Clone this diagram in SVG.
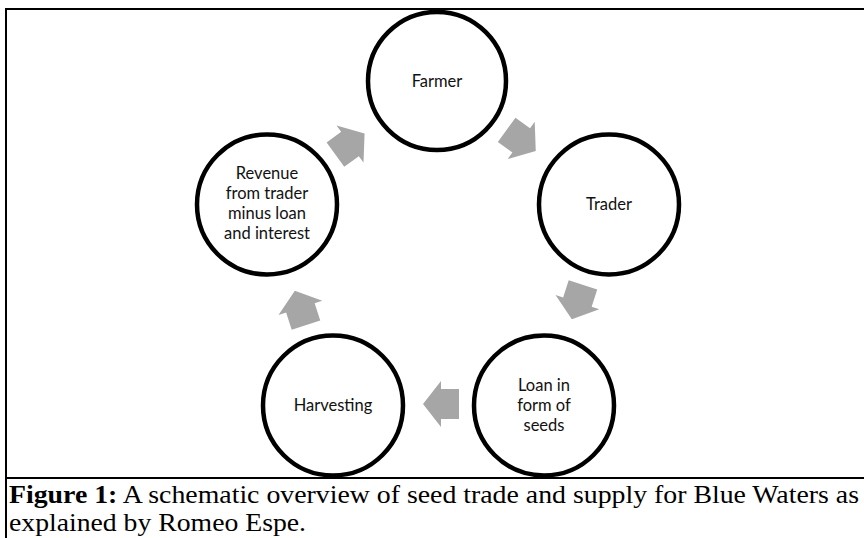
<svg xmlns="http://www.w3.org/2000/svg" width="864" height="538" viewBox="0 0 864 538">
<defs>
<style>
.node{fill:#fff;stroke:#000;stroke-width:4.5}
.lbl{font-family:Lato,"Open Sans","Liberation Sans",sans-serif;font-size:16.5px;fill:#111;text-anchor:middle}
.arr{fill:#a6a6a6}
.frame{fill:none;stroke:#000;stroke-width:2}
.cap{font-family:"Liberation Serif","Times New Roman",serif;font-size:25px;fill:#000}
</style>
<path id="arrow" d="M-18,-15 H0 V-23 L18,0 L0,23 V15 H-18 Z"/>
</defs>
<rect width="864" height="538" fill="#fff"/>
<g id="frame">
<path class="frame" d="M6,540 V9 H866"/>
<line class="frame" x1="6" y1="478" x2="866" y2="478"/>
</g>
<g id="connectors">
<use href="#arrow" class="arr" transform="translate(521.2,140.4) rotate(36)"/>
<use href="#arrow" class="arr" transform="translate(577.4,302.1) rotate(108)"/>
<use href="#arrow" class="arr" transform="translate(441,404) rotate(180)"/>
<use href="#arrow" class="arr" transform="translate(300.4,307.9) rotate(252)"/>
<use href="#arrow" class="arr" transform="translate(350,144) rotate(324)"/>
</g>
<g id="farmer">
<circle class="node" cx="437" cy="81" r="69"/>
<text class="lbl" x="437" y="87">Farmer</text>
</g>
<g id="trader">
<circle class="node" cx="609" cy="204.5" r="70"/>
<text class="lbl" x="609" y="210">Trader</text>
</g>
<g id="loan">
<circle class="node" cx="544" cy="405.5" r="70"/>
<text class="lbl" x="544" y="391">Loan in</text>
<text class="lbl" x="544" y="411">form of</text>
<text class="lbl" x="544" y="431">seeds</text>
</g>
<g id="harvesting">
<circle class="node" cx="333" cy="405.5" r="70"/>
<text class="lbl" x="333" y="411">Harvesting</text>
</g>
<g id="revenue">
<circle class="node" cx="267" cy="204.5" r="70"/>
<text class="lbl" x="267" y="179">Revenue</text>
<text class="lbl" x="267" y="199">from trader</text>
<text class="lbl" x="267" y="219">minus loan</text>
<text class="lbl" x="267" y="239">and interest</text>
</g>
<g id="caption">
<text class="cap" x="9" y="503" textLength="850" lengthAdjust="spacingAndGlyphs"><tspan font-weight="bold">Figure 1:</tspan> A schematic overview of seed trade and supply for Blue Waters as</text>
<text class="cap" x="9" y="531" textLength="297" lengthAdjust="spacingAndGlyphs">explained by Romeo Espe.</text>
</g>
</svg>
